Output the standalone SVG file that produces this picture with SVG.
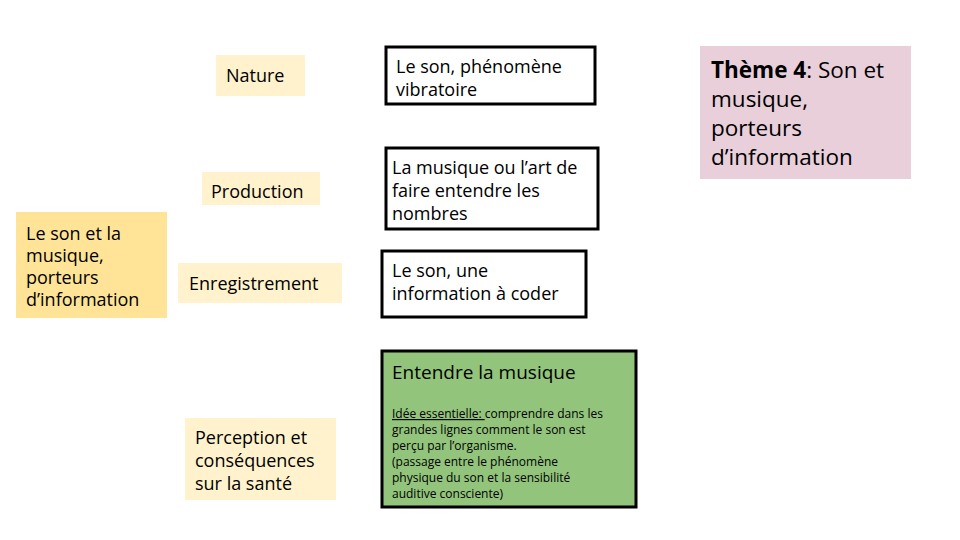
<svg xmlns="http://www.w3.org/2000/svg" width="960" height="540" viewBox="0 0 960 540">
<style>
text{font-family:"Open Sans","Noto Sans",sans-serif;fill:#000}
.t18{font-size:18px}
.lt{fill:#FFF2CC}
.bx{fill:#fff;stroke:#000;stroke-width:3}
.sm{font-size:12px}
</style>
<rect width="960" height="540" fill="#fff"/>
<g id="root">
<rect x="16" y="212" width="151" height="106" fill="#FFE497"/>
<text class="t18" x="26"><tspan x="26" y="240">Le son et la</tspan><tspan x="26" y="262">musique,</tspan><tspan x="26" y="284">porteurs</tspan><tspan x="26" y="306">d’information</tspan></text>
</g>
<g id="nature">
<rect class="lt" x="216" y="55" width="89" height="41"/>
<text class="t18" x="226" y="82">Nature</text>
</g>
<g id="production">
<rect class="lt" x="202" y="172" width="118" height="33"/>
<text class="t18" x="211" y="198">Production</text>
</g>
<g id="enregistrement">
<rect class="lt" x="178" y="263" width="164" height="40"/>
<text class="t18" x="189" y="290">Enregistrement</text>
</g>
<g id="perception">
<rect class="lt" x="185" y="418" width="151" height="82"/>
<text class="t18"><tspan x="195" y="444">Perception et</tspan><tspan x="195" y="467">conséquences</tspan><tspan x="195" y="490">sur la santé</tspan></text>
</g>
<g id="b1">
<rect class="bx" x="386" y="47" width="209" height="57"/>
<text class="t18"><tspan x="396" y="73">Le son, phénomène</tspan><tspan x="396" y="96">vibratoire</tspan></text>
</g>
<g id="b2">
<rect class="bx" x="386" y="148" width="212" height="81"/>
<text class="t18"><tspan x="392" y="174">La musique ou l’art de</tspan><tspan x="392" y="197">faire entendre les</tspan><tspan x="392" y="220">nombres</tspan></text>
</g>
<g id="b3">
<rect class="bx" x="382" y="251" width="204" height="66"/>
<text class="t18"><tspan x="392" y="277">Le son, une</tspan><tspan x="392" y="300">information à coder</tspan></text>
</g>
<g id="b4">
<rect x="382" y="351" width="254" height="156" fill="#92C47C" stroke="#000" stroke-width="3"/>
<text x="392" y="379" style="font-size:19px">Entendre la musique</text>
<text class="sm"><tspan x="392" y="418" text-decoration="underline">Idée essentielle: </tspan><tspan>comprendre dans les</tspan><tspan x="392" y="434">grandes lignes comment le son est</tspan><tspan x="392" y="450">perçu par l’organisme.</tspan><tspan x="392" y="466">(passage entre le phénomène</tspan><tspan x="392" y="482">physique du son et la sensibilité</tspan><tspan x="392" y="498">auditive consciente)</tspan></text>
</g>
<g id="theme">
<rect x="700" y="46" width="211" height="133" fill="#E8CFDA"/>
<text style="font-size:22.5px"><tspan x="711" y="78" font-weight="bold">Thème 4</tspan><tspan>: Son et</tspan><tspan x="711" y="107">musique,</tspan><tspan x="711" y="136">porteurs</tspan><tspan x="711" y="165">d’information</tspan></text>
</g>
<g id="connectors"></g>
</svg>
